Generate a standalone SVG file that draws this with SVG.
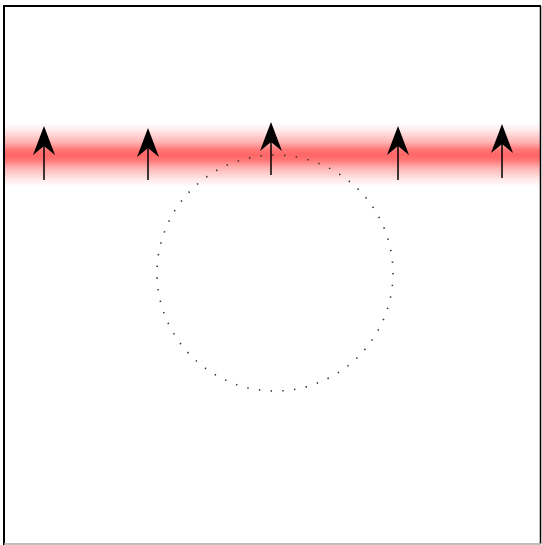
<svg xmlns="http://www.w3.org/2000/svg" width="542" height="545" viewBox="0 0 542 545">
<defs>
<linearGradient id="band" x1="0" y1="0" x2="0" y2="1">
<stop offset="0" stop-color="#ff6666" stop-opacity="0"/>
<stop offset="0.12" stop-color="#ff6666" stop-opacity="0.15"/>
<stop offset="0.3" stop-color="#ff6666" stop-opacity="0.5"/>
<stop offset="0.42" stop-color="#ff6666" stop-opacity="0.9"/>
<stop offset="0.5" stop-color="#ff6666" stop-opacity="1"/>
<stop offset="0.58" stop-color="#ff6666" stop-opacity="0.9"/>
<stop offset="0.7" stop-color="#ff6666" stop-opacity="0.5"/>
<stop offset="0.88" stop-color="#ff6666" stop-opacity="0.15"/>
<stop offset="1" stop-color="#ff6666" stop-opacity="0"/>
</linearGradient>
<style>
.ar{stroke:#000;stroke-width:1.5;fill:none}
.hd{fill:#000}
</style>
</defs>
<rect x="0" y="0" width="542" height="545" fill="#fff"/>
<rect x="5" y="123" width="536" height="64" fill="url(#band)"/>
<g id="circle">
<circle cx="275" cy="273" r="118" fill="none" stroke="#333" stroke-width="1.6" stroke-dasharray="1.4 10.368"/>
</g>
<g id="connectors">
<line class="ar" x1="44" y1="180" x2="44" y2="145"/>
<path class="hd" d="M44 126 L55 155 L44 146 L33 155 Z"/>
<line class="ar" x1="148" y1="180" x2="148" y2="147"/>
<path class="hd" d="M148 128 L159 157 L148 148 L137 157 Z"/>
<line class="ar" x1="271" y1="175" x2="271" y2="141"/>
<path class="hd" d="M271 122 L282 151 L271 142 L260 151 Z"/>
<line class="ar" x1="398" y1="180" x2="398" y2="145"/>
<path class="hd" d="M398 126 L409 155 L398 146 L387 155 Z"/>
<line class="ar" x1="502" y1="178" x2="502" y2="143"/>
<path class="hd" d="M502 124 L513 153 L502 144 L491 153 Z"/>
</g>
<g id="frame">
<path d="M4 545 L4 6 L541 6" fill="none" stroke="#000" stroke-width="2"/>
<line x1="540.5" y1="6" x2="540.5" y2="544" stroke="#000" stroke-width="1.5"/>
<line x1="4" y1="544" x2="541" y2="544" stroke="#aaa" stroke-width="1.5"/>
</g>
</svg>
